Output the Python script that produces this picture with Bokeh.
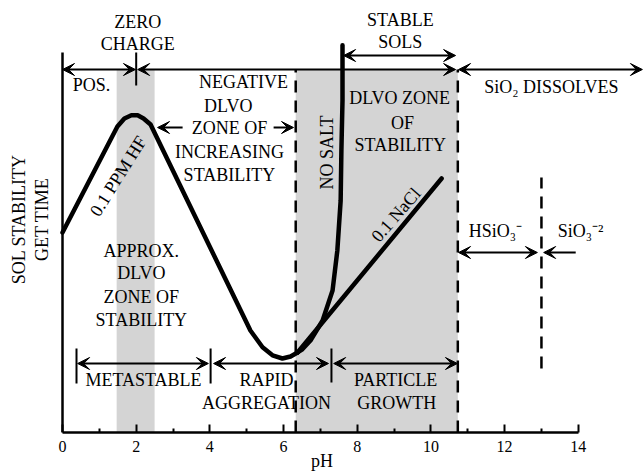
import math
from bokeh.plotting import figure
from bokeh.models import Range1d, ColumnDataSource, Arrow, VeeHead, FixedTicker
from bokeh.core.properties import value
from bokeh.embed import file_html
from bokeh.resources import INLINE

FONT = "Liberation Serif"

# ---- curves (pH, sol stability / gel time, arbitrary units) ----
hf_ph = [0.0, 1.49, 1.68, 1.87, 2.04, 2.20, 2.39, 5.10, 5.43, 5.70, 5.97, 6.19, 6.38]
hf_stab = [5.0, 7.65, 7.85, 7.93, 7.93, 7.85, 7.70, 2.55, 2.13, 1.93, 1.85, 1.90, 2.00]
nosalt_ph = [6.38, 6.51, 6.73, 7.06, 7.33, 7.46, 7.55, 7.57, 7.60, 7.60]
nosalt_stab = [2.00, 2.08, 2.30, 2.80, 3.55, 4.55, 5.80, 7.05, 8.30, 9.68]
nacl_ph = [6.38, 10.29]
nacl_stab = [2.00, 6.35]

# ---- shaded zones ----
band_left = [1.47, 6.33]
band_right = [2.50, 10.73]
band_top = [9.075, 9.075]
band_bottom = [0.0, 0.0]

# ---- dashed boundaries ----
dash_ph = [6.33, 10.73, 13.0]
dash_bottom = [0.0, 0.0, 1.6]
dash_top = [9.075, 9.075, 6.375]

# ---- double-headed range arrows ----
dbl_x0 = [0.0, 2.04, 10.75, 7.63, 10.75, 0.41, 4.10, 7.36]
dbl_x1 = [1.98, 10.67, 15.74, 10.67, 12.89, 3.96, 7.22, 10.72]
dbl_y = [9.075, 9.075, 9.075, 9.425, 4.5, 1.725, 1.725, 1.725]

# ---- single-headed arrows (head at x1) ----
sgl_x0 = [3.26, 5.73, 13.93]
sgl_x1 = [2.58, 6.27, 13.06]
sgl_y = [7.625, 7.625, 4.5]

# ---- small vertical separators ----
sep_x = [2.0, 0.38, 4.02, 7.30]
sep_y0 = [8.675, 1.225, 1.225, 1.25]
sep_y1 = [9.5, 2.1, 2.1, 2.1]
yaxis_top = 9.5

# ---- annotations ----
txt = ["ZERO", "CHARGE", "POS.", "NEGATIVE", "DLVO", "ZONE OF", "INCREASING", "STABILITY",
       "STABLE", "SOLS", "DLVO ZONE", "OF", "STABILITY", "SiO\u2082 DISSOLVES",
       "HSiO\u2083\u207b", "SiO\u2083\u207b\u00b2",
       "APPROX.", "DLVO", "ZONE OF", "STABILITY", "METASTABLE",
       "RAPID", "AGGREGATION", "PARTICLE", "GROWTH",
       "NO SALT", "0.1 NaCl", "0.1 PPM HF",
       "SOL STABILITY", "GET TIME"]
txt_x = [2.04, 2.04, 0.79, 4.91, 4.50, 4.53, 4.53, 4.53,
         9.17, 9.17, 9.15, 9.23, 9.17, 13.27,
         11.75, 14.06,
         2.14, 2.14, 2.14, 2.14, 2.20,
         5.54, 5.54, 9.04, 9.07,
         7.19, 9.05, 1.51,
         -1.17, -0.57]
txt_y = [10.275, 9.725, 8.70, 8.775, 8.175, 7.61, 7.025, 6.45,
         10.325, 9.775, 8.375, 7.75, 7.20, 8.65,
         5.05, 5.05,
         4.55, 3.99, 3.40, 2.825, 1.325,
         1.325, 0.74, 1.325, 0.75,
         7.0, 5.44, 6.41,
         5.33, 5.33]
txt_angle = [0] * 25 + [90, 49, 58, 90, 90]

x_ticks = [0, 2, 4, 6, 8, 10, 12, 14]
x_minor = [1, 3, 5, 7, 9, 11, 13]

p = figure(width=643, height=473, output_backend="svg", toolbar_location=None,
           x_range=Range1d(-1.683, 15.77), y_range=Range1d(0, 10.8),
           min_border_left=0, min_border_right=0, min_border_top=0, min_border_bottom=41)
p.outline_line_color = None
p.grid.visible = False
p.background_fill_color = "white"
p.yaxis.visible = False

# bands
p.quad(left=band_left, right=band_right, bottom=band_bottom, top=band_top,
       fill_color="#d4d4d4", line_color=None)

# dashed lines
p.segment(x0=dash_ph, y0=dash_bottom, x1=dash_ph, y1=dash_top,
          line_color="black", line_width=2.5, line_dash="12 8")

# stability axis line
p.segment(x0=[0], y0=[0], x1=[0], y1=[yaxis_top], line_color="black", line_width=2.5)

# curves
for xs, ys in [(hf_ph, hf_stab), (nosalt_ph, nosalt_stab), (nacl_ph, nacl_stab)]:
    p.line(xs, ys, line_color="black", line_width=4.5, line_join="round", line_cap="round")

# separators
p.segment(x0=sep_x, y0=sep_y0, x1=sep_x, y1=sep_y1, line_color="black", line_width=2)

# arrows
dsrc = ColumnDataSource(dict(x0=dbl_x0, x1=dbl_x1, y=dbl_y))
p.add_layout(Arrow(source=dsrc, x_start="x0", y_start="y", x_end="x1", y_end="y",
                   line_width=2, line_color="black",
                   start=VeeHead(size=12, fill_color="black", line_color="black", line_width=1),
                   end=VeeHead(size=12, fill_color="black", line_color="black", line_width=1)))
ssrc = ColumnDataSource(dict(x0=sgl_x0, x1=sgl_x1, y=sgl_y))
p.add_layout(Arrow(source=ssrc, x_start="x0", y_start="y", x_end="x1", y_end="y",
                   line_width=2, line_color="black",
                   end=VeeHead(size=12, fill_color="black", line_color="black", line_width=1)))

# texts
tsrc = ColumnDataSource(dict(x=txt_x, y=txt_y, text=txt,
                             angle=[math.radians(a) for a in txt_angle]))
p.text(x="x", y="y", text="text", angle="angle", source=tsrc,
       text_font=value(FONT), text_font_size="18px", text_color="black",
       text_align="center", text_baseline="middle")

# pH axis
xa = p.xaxis[0]
xa.ticker = FixedTicker(ticks=x_ticks, minor_ticks=x_minor)
xa.bounds = (0, 14)
xa.axis_line_width = 2.5
xa.major_tick_line_width = 2
xa.minor_tick_line_width = 2
xa.major_tick_in = 8
xa.major_tick_out = 0
xa.minor_tick_in = 4
xa.minor_tick_out = 0
xa.major_label_standoff = 8
xa.major_label_text_font = FONT
xa.major_label_text_font_size = "16px"
xa.major_label_text_color = "black"
xa.axis_line_color = "black"
xa.major_tick_line_color = "black"
xa.minor_tick_line_color = "black"
xa.axis_label = "pH"
xa.axis_label_text_font = FONT
xa.axis_label_text_font_size = "18px"
xa.axis_label_text_font_style = "normal"
xa.axis_label_text_color = "black"
xa.axis_label_standoff = -4

open("out.html", "w").write(file_html(p, INLINE))
